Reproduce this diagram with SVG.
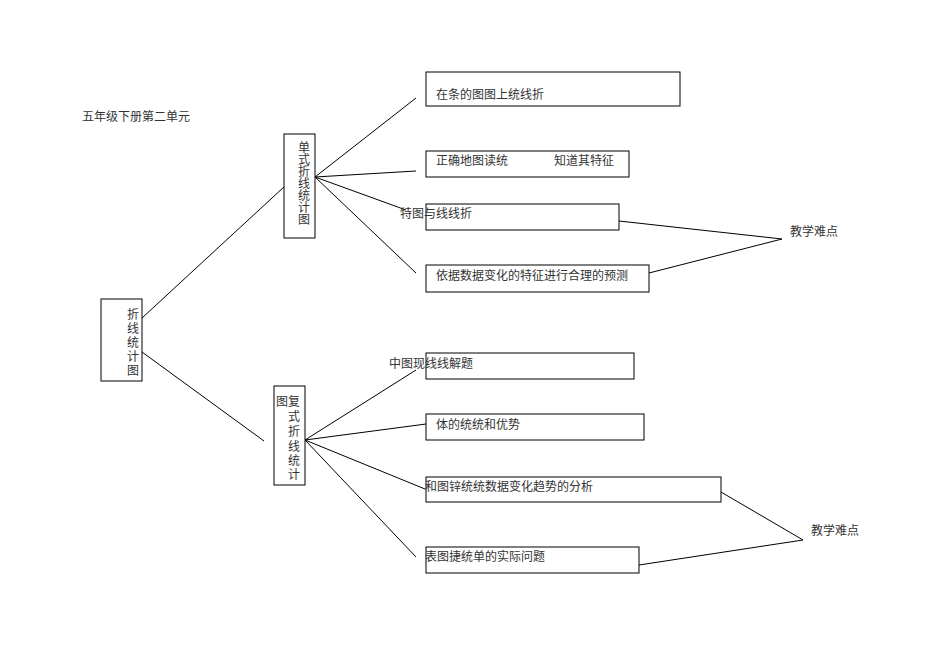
<svg xmlns="http://www.w3.org/2000/svg" width="950" height="672" viewBox="0 0 950 672">
<style>
.box{fill:#fff;stroke:#000;stroke-width:1}
.t{font-family:"Noto Sans CJK SC","Noto Sans CJK JP",sans-serif;font-size:12px;fill:#333}
.c{stroke:#000;stroke-width:1;fill:none}
</style>
<rect width="950" height="672" fill="#fff"/>
<text class="t" x="82" y="121">五年级下册第二单元</text>
<g id="connectors">
<line class="c" x1="142" y1="318" x2="285" y2="186"/>
<line class="c" x1="142" y1="352" x2="264" y2="441"/>
<line class="c" x1="315" y1="177" x2="416" y2="98"/>
<line class="c" x1="315" y1="177" x2="416" y2="171"/>
<line class="c" x1="315" y1="177" x2="406" y2="210"/>
<line class="c" x1="315" y1="177" x2="416" y2="273"/>
<line class="c" x1="305" y1="440" x2="416" y2="370"/>
<line class="c" x1="305" y1="440" x2="426" y2="424"/>
<line class="c" x1="305" y1="440" x2="425" y2="489"/>
<line class="c" x1="305" y1="440" x2="416" y2="557"/>
<line class="c" x1="619" y1="221" x2="782" y2="239"/>
<line class="c" x1="649" y1="273" x2="782" y2="239"/>
<line class="c" x1="721" y1="492" x2="803" y2="540"/>
<line class="c" x1="639" y1="565" x2="803" y2="540"/>
</g>
<g id="root">
<rect class="box" x="101" y="299" width="41" height="82"/>
<text class="t" x="127" y="319">折</text>
<text class="t" x="127" y="333">线</text>
<text class="t" x="127" y="347">统</text>
<text class="t" x="127" y="361">计</text>
<text class="t" x="127" y="375">图</text>
</g>
<g id="single">
<rect class="box" x="284" y="134" width="31" height="104"/>
<text class="t" x="298" y="152">单</text>
<text class="t" x="298" y="164">式</text>
<text class="t" x="298" y="176">折</text>
<text class="t" x="298" y="188">线</text>
<text class="t" x="298" y="200">统</text>
<text class="t" x="298" y="212">计</text>
<text class="t" x="298" y="224">图</text>
</g>
<g id="compound">
<rect class="box" x="274" y="386" width="31" height="99"/>
<text class="t" x="276" y="406">图</text>
<text class="t" x="288" y="406">复</text>
<text class="t" x="288" y="421">式</text>
<text class="t" x="288" y="436">折</text>
<text class="t" x="288" y="451">线</text>
<text class="t" x="288" y="465">统</text>
<text class="t" x="288" y="479">计</text>
</g>
<g id="n1">
<rect class="box" x="426" y="72" width="254" height="34"/>
<text class="t" x="436" y="99">在条的图图上统线折</text>
</g>
<g id="n2">
<rect class="box" x="426" y="151" width="203" height="26"/>
<text class="t" x="436" y="165">正确地图读统</text>
<text class="t" x="554" y="165">知道其特征</text>
</g>
<g id="n3">
<rect class="box" x="426" y="204" width="193" height="26"/>
<text class="t" x="400" y="218">特图与线线折</text>
</g>
<g id="n4">
<rect class="box" x="426" y="265" width="223" height="27"/>
<text class="t" x="436" y="280">依据数据变化的特征进行合理的预测</text>
</g>
<g id="n5">
<rect class="box" x="426" y="353" width="208" height="26"/>
<text class="t" x="389" y="368">中图现线线解题</text>
</g>
<g id="n6">
<rect class="box" x="426" y="414" width="218" height="26"/>
<text class="t" x="436" y="429">体的统统和优势</text>
</g>
<g id="n7">
<rect class="box" x="426" y="477" width="295" height="25"/>
<text class="t" x="425" y="491">和图锌统统数据变化趋势的分析</text>
</g>
<g id="n8">
<rect class="box" x="426" y="547" width="213" height="26"/>
<text class="t" x="425" y="561">表图捷统单的实际问题</text>
</g>
<g id="d1"><text class="t" x="790" y="236">教学难点</text></g>
<g id="d2"><text class="t" x="811" y="535">教学难点</text></g>
</svg>
